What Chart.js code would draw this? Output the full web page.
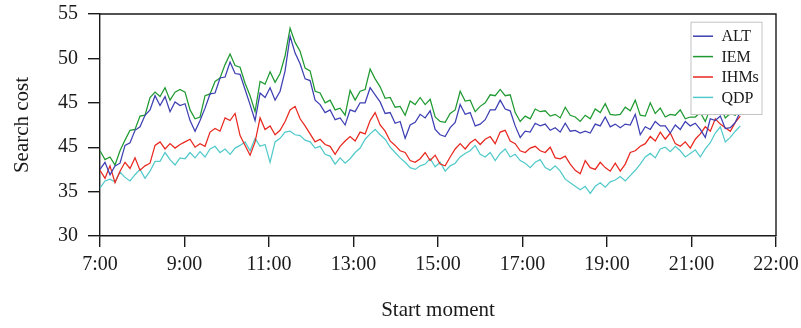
<!DOCTYPE html>
<html>
<head>
<meta charset="utf-8">
<script src="https://cdn.jsdelivr.net/npm/chart.js@4.4.1/dist/chart.umd.min.js"></script>
<style>
  html, body { margin: 0; padding: 0; background: #fff; }
  #wrap { width: 801px; height: 328px; position: relative; }
</style>
</head>
<body>
<div id="wrap"><canvas id="c" width="801" height="328"></canvas></div>
<script>
// ---- data ----
const xTickLabels = ['7:00', '9:00', '11:00', '13:00', '15:00', '17:00', '19:00', '21:00', '22:00'];
const yTickValues = [30, 35, 40, 45, 50, 55];
const yTickLabels = ['30', '35', '45', '45', '50', '55'];
const seriesNames = ['ALT', 'IEM', 'IHMs', 'QDP'];
const sampleSpacing = 0.0592; // axis units between successive samples

const ALT = [
  37.5, 38.3, 36.9, 37.9, 38.2, 40.2, 40.5, 41.9, 42.3, 43.6,
  44.2, 45.8, 44.7, 45.7, 44.0, 45.1, 44.7, 44.9, 43.0, 41.8,
  43.0, 44.4, 46.0, 46.1, 47.8, 47.9, 49.6, 48.3, 48.2, 46.5,
  44.8, 43.0, 46.1, 45.6, 46.7, 45.3, 46.3, 48.6, 52.5, 50.6,
  49.4, 47.7, 47.5, 45.3, 44.8, 43.9, 44.2, 43.1, 43.3, 42.5,
  44.2, 44.0, 45.0, 45.0, 46.7, 45.9, 45.1, 43.8, 43.9, 42.7,
  42.9, 41.0, 42.5, 42.8, 43.7, 43.3, 44.1, 42.0, 41.4, 41.2,
  42.2, 42.8, 44.8, 43.7, 43.9, 42.4, 42.6, 43.1, 44.2, 44.2,
  45.3, 44.3, 44.1, 42.4, 41.1, 41.8, 41.7, 42.7, 42.4, 42.6,
  41.9, 42.2, 41.7, 42.7, 41.8, 41.9, 41.6, 41.8, 41.6, 42.6,
  42.4, 43.4, 42.3, 42.6, 42.2, 42.6, 42.5, 43.7, 41.4, 42.3,
  42.0, 42.9, 42.4, 42.4, 41.6, 42.5, 42.0, 42.9, 42.4, 42.7,
  42.0, 41.1, 43.2, 43.0, 43.5, 42.1, 42.2, 42.8, 44.0
];
const IEM = [
  39.6, 38.6, 38.9, 38.0, 39.6, 40.8, 41.9, 42.0, 43.5, 43.6,
  45.6, 46.2, 45.7, 46.7, 45.3, 46.2, 46.5, 46.2, 44.2, 43.2,
  43.4, 45.8, 46.0, 47.4, 47.8, 49.3, 50.5, 49.2, 49.0, 47.2,
  45.8, 44.0, 47.4, 47.1, 48.5, 47.3, 48.3, 50.3, 53.4, 51.8,
  50.8, 48.9, 48.6, 46.3, 46.1, 45.0, 45.3, 44.2, 44.4, 43.6,
  46.4, 45.3, 46.3, 46.5, 48.8, 47.7, 46.8, 45.5, 45.6, 44.5,
  44.6, 43.6, 45.2, 44.8, 45.6, 44.8, 45.4, 43.4, 42.9, 42.8,
  43.8, 44.2, 46.3, 45.2, 45.3, 44.0, 44.6, 45.0, 45.9, 45.8,
  46.5, 45.8, 45.9, 43.9, 42.9, 43.5, 43.2, 44.3, 44.0, 44.1,
  43.5, 43.7, 43.3, 44.5, 43.6, 43.4, 42.9, 43.6, 43.2, 44.3,
  43.9, 44.9, 43.7, 43.6, 43.7, 44.5, 44.1, 45.3, 43.6, 43.5,
  45.0, 43.8, 44.4, 43.4, 43.7, 43.6, 44.2, 43.2, 43.4, 43.4,
  43.9, 42.9, 44.4, 44.3, 44.6, 43.3, 43.8, 43.6, 44.6
];
const IHMs = [
  37.4, 36.5, 37.9, 36.0, 37.3, 38.3, 37.6, 38.8, 37.4, 37.9,
  38.2, 40.2, 40.6, 39.8, 40.4, 39.9, 40.3, 40.6, 40.9, 40.0,
  40.4, 40.1, 41.7, 42.1, 41.8, 43.3, 43.0, 43.8, 41.3, 40.2,
  39.1, 40.6, 43.3, 42.0, 42.4, 41.4, 41.9, 42.9, 44.2, 44.6,
  43.2, 42.4, 41.5, 40.6, 40.9, 40.3, 40.1, 39.2, 40.1, 40.7,
  41.2, 40.7, 41.7, 41.5, 43.0, 43.9, 42.5, 41.8, 40.7, 40.2,
  39.6, 39.4, 38.5, 38.3, 38.7, 39.4, 38.5, 39.1, 38.1, 37.9,
  38.9, 39.8, 40.4, 39.8, 40.5, 40.9, 40.3, 40.9, 41.2, 40.4,
  41.7, 41.9, 40.7, 40.4, 39.6, 39.4, 39.9, 40.1, 39.6, 39.4,
  40.0, 38.8, 38.7, 39.0, 38.1, 37.4, 37.0, 38.5, 37.7, 37.5,
  38.3, 37.7, 37.3, 38.2, 37.3, 38.1, 39.4, 39.6, 40.1, 40.4,
  41.2, 40.7, 41.7, 40.9, 41.6, 40.4, 40.1, 40.6, 39.9, 40.9,
  41.5, 42.3, 41.8, 43.2, 42.6, 42.2, 41.8, 42.8, 43.5
];
const QDP = [
  35.4, 36.2, 36.4, 36.1, 37.2, 36.6, 36.2, 36.9, 37.5, 36.5,
  37.3, 38.4, 38.4, 39.4, 38.6, 38.0, 38.8, 38.7, 39.4, 38.8,
  39.5, 38.9, 39.8, 40.1, 39.4, 39.8, 39.2, 39.9, 40.2, 40.6,
  39.6, 41.0, 40.1, 40.3, 38.3, 40.6, 41.0, 41.7, 41.8, 41.4,
  41.3, 40.8, 40.6, 39.9, 40.1, 39.2, 39.0, 38.1, 38.8, 38.2,
  38.7, 39.4, 39.9, 40.9, 41.5, 42.0, 41.4, 40.9, 40.0, 39.4,
  38.8, 38.3, 37.7, 37.5, 37.9, 38.1, 38.7, 37.8, 38.3, 37.3,
  37.9, 38.2, 38.9, 39.3, 39.6, 40.2, 39.2, 38.9, 39.4, 38.5,
  39.3, 39.8, 38.9, 39.2, 38.5, 38.2, 37.7, 38.3, 38.6, 37.7,
  37.4, 37.9, 37.3, 36.4, 36.0, 35.6, 35.2, 35.6, 34.8, 35.6,
  36.0, 35.5, 36.1, 36.3, 36.7, 36.2, 36.8, 37.4, 38.1, 38.9,
  39.3, 38.8, 39.8, 40.0, 39.5, 40.1, 39.6, 38.9, 39.3, 39.7,
  38.9, 39.8, 40.5, 41.6, 42.3, 40.6, 41.1, 41.8, 42.4
];

const seriesValues = [ALT, IEM, IHMs, QDP];
const seriesColors = ['#3d3fb3', '#1f9a31', '#e8281f', '#52c9ca'];

const toPoints = arr => arr.map((v, i) => ({ x: i * sampleSpacing, y: v }));

const serif = "'Liberation Serif', 'DejaVu Serif', serif";

// top & right frame lines
const framePlugin = {
  id: 'frame',
  beforeDatasetsDraw(chart) {
    const { ctx, chartArea: a } = chart;
    ctx.save();
    ctx.strokeStyle = '#1a1a1a';
    ctx.lineWidth = 1.4;
    ctx.beginPath();
    ctx.moveTo(a.left, a.top);
    ctx.lineTo(a.right, a.top);
    ctx.lineTo(a.right, a.bottom);
    ctx.stroke();
    ctx.restore();
  }
};

// legend box inside plot (top right)
const legendPlugin = {
  id: 'boxLegend',
  afterDatasetsDraw(chart) {
    const { ctx, chartArea: a } = chart;
    const bx = a.right - 85.5, by = a.top + 7.7, bw = 71, bh = 92.3;
    ctx.save();
    ctx.fillStyle = '#ffffff';
    ctx.fillRect(bx, by, bw, bh);
    ctx.strokeStyle = '#c4c4c4';
    ctx.lineWidth = 1;
    ctx.strokeRect(bx + 0.5, by + 0.5, bw, bh);
    ctx.font = "16px " + serif;
    ctx.textBaseline = 'middle';
    ctx.textAlign = 'left';
    chart.data.datasets.forEach((ds, i) => {
      const y = by + 14.5 + i * 20.4;
      ctx.strokeStyle = ds.borderColor;
      ctx.lineWidth = 1.5;
      ctx.beginPath();
      ctx.moveTo(bx + 2.5, y);
      ctx.lineTo(bx + 22.5, y);
      ctx.stroke();
      ctx.fillStyle = '#1a1a1a';
      ctx.fillText(ds.label, bx + 31, y + 1);
    });
    ctx.restore();
  }
};

new Chart(document.getElementById('c'), {
  type: 'line',
  data: {
    datasets: seriesNames.map((name, k) => ({
      label: name,
      data: toPoints(seriesValues[k]),
      borderColor: seriesColors[k],
      backgroundColor: seriesColors[k],
      borderWidth: 1.25,
      pointRadius: 0,
      tension: 0,
      fill: false
    }))
  },
  options: {
    responsive: false,
    animation: false,
    events: [],
    layout: { padding: { left: 0, right: 25, top: 14, bottom: 0 } },
    plugins: { legend: { display: false }, tooltip: { enabled: false } },
    scales: {
      x: {
        type: 'linear',
        min: 0,
        max: xTickLabels.length - 1,
        afterBuildTicks: s => { s.ticks = xTickLabels.map((_, i) => ({ value: i })); },
        afterFit: s => { s.height = 92; s.paddingLeft = 0; s.paddingRight = 0; },
        ticks: {
          autoSkip: false,
          maxRotation: 0,
          padding: 6,
          color: '#1a1a1a',
          font: { family: serif, size: 20 },
          callback: v => xTickLabels[v]
        },
        grid: { drawOnChartArea: false, drawTicks: true, tickLength: 11, color: '#1a1a1a', lineWidth: 1.4 },
        border: { display: true, color: '#1a1a1a', width: 1.4 },
        title: { display: true, text: 'Start moment', color: '#1a1a1a', font: { family: serif, size: 21 }, padding: { top: 0, bottom: 5 } }
      },
      y: {
        min: 30,
        max: 55,
        afterBuildTicks: s => { s.ticks = yTickValues.map(v => ({ value: v })); },
        afterFit: s => { s.width = 100; s.paddingTop = 0; s.paddingBottom = 0; },
        ticks: {
          padding: 10,
          color: '#1a1a1a',
          font: { family: serif, size: 20 },
          callback: v => yTickLabels[yTickValues.indexOf(v)]
        },
        grid: { drawOnChartArea: false, drawTicks: true, tickLength: 12, color: '#1a1a1a', lineWidth: 1.4 },
        border: { display: true, color: '#1a1a1a', width: 1.4 },
        title: { display: true, text: 'Search cost', color: '#1a1a1a', font: { family: serif, size: 21 }, padding: { top: 10, bottom: 0 } }
      }
    }
  },
  plugins: [framePlugin, legendPlugin]
});
</script>
</body>
</html>
